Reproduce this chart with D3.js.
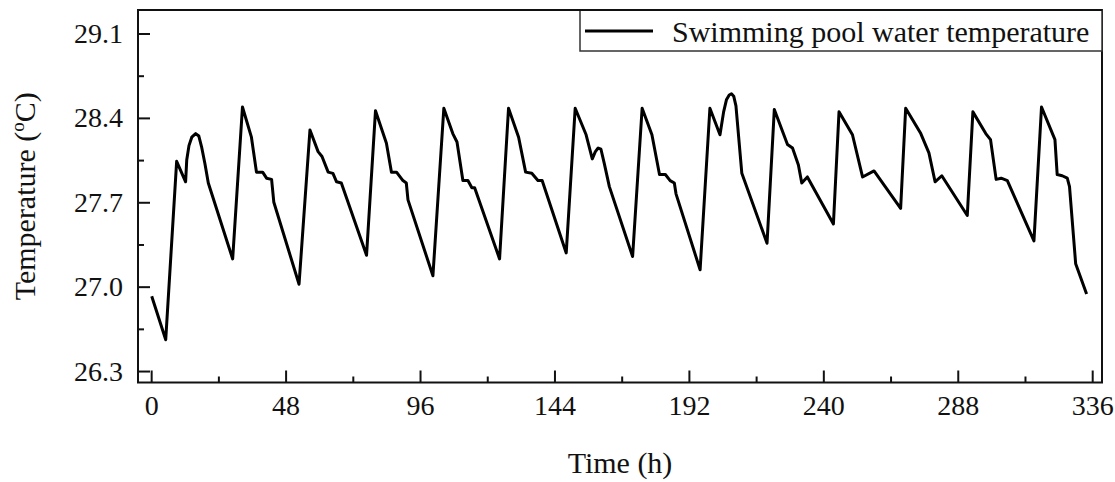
<!DOCTYPE html>
<html>
<head>
<meta charset="utf-8">
<script src="https://cdn.jsdelivr.net/npm/d3@7"></script>
<style>
  html, body { margin: 0; padding: 0; background: #fff; }
  svg { display: block; font-family: "Liberation Serif", "Times New Roman", serif; }
</style>
</head>
<body>
<svg id="chart" width="1115" height="482"></svg>
<script>
// Pool water temperature over two weeks (hourly time axis)
const hours = [
  0.2, 5.2, 9.1, 12.3, 12.7, 13.5, 14.5, 15.9, 17.0, 18.0, 19.2, 20.4,
  29.1, 32.6, 35.8, 37.6, 39.8, 41.2, 43.0, 43.8,
  52.8, 56.7, 59.6, 61.0, 63.2, 64.9, 66.2, 67.9,
  76.9, 80.1, 84.0, 85.8, 87.6, 89.9, 91.1, 91.7,
  100.6, 104.5, 107.7, 109.2, 111.3, 113.1, 114.5, 115.5,
  124.4, 127.6, 131.2, 133.7, 135.9, 138.1, 139.6,
  148.2, 151.4, 155.3, 157.5, 158.6, 159.6, 160.6, 161.8, 163.6,
  171.9, 175.3, 178.8, 181.5, 183.6, 185.3, 186.8, 187.4,
  196.0, 199.5, 203.1, 204.4, 205.4, 206.4, 207.2, 208.0, 208.8, 210.9,
  219.9, 222.5, 227.2, 229.0, 231.1, 232.3, 234.3,
  243.6, 245.6, 250.4, 254.0, 258.1,
  267.6, 269.4, 274.8, 277.7, 279.9, 282.3,
  291.4, 293.4, 298.0, 299.7, 301.7, 303.5, 305.7,
  315.2, 317.9, 322.7, 323.5, 325.3, 327.1, 327.9, 330.1, 334.0
];
const temps = [
  26.92, 26.56, 28.04, 27.87, 28.05, 28.17, 28.24, 28.27, 28.25, 28.16, 28.02, 27.86,
  27.23, 28.49, 28.24, 27.95, 27.95, 27.90, 27.89, 27.70,
  27.02, 28.30, 28.12, 28.08, 27.95, 27.94, 27.87, 27.86,
  27.26, 28.46, 28.19, 27.95, 27.95, 27.88, 27.86, 27.72,
  27.09, 28.48, 28.27, 28.20, 27.88, 27.88, 27.82, 27.82,
  27.23, 28.48, 28.24, 27.95, 27.94, 27.88, 27.88,
  27.28, 28.48, 28.26, 28.06, 28.12, 28.15, 28.14, 28.02, 27.83,
  27.25, 28.48, 28.26, 27.93, 27.93, 27.88, 27.86, 27.77,
  27.14, 28.48, 28.26, 28.45, 28.55, 28.59, 28.60, 28.58, 28.50, 27.94,
  27.36, 28.47, 28.18, 28.15, 28.01, 27.86, 27.91,
  27.52, 28.45, 28.26, 27.91, 27.96,
  27.65, 28.48, 28.27, 28.11, 27.87, 27.92,
  27.59, 28.45, 28.27, 28.22, 27.89, 27.90, 27.88,
  27.38, 28.49, 28.22, 27.93, 27.92, 27.90, 27.83, 27.19, 26.94
];

const xTicks = [0, 48, 96, 144, 192, 240, 288, 336];
const xMinorTicks = [24, 72, 120, 168, 216, 264, 312];
const yTicks = [26.3, 27.0, 27.7, 28.4, 29.1];
const yMinorTicks = [26.65, 27.35, 28.05, 28.75];

const seriesName = "Swimming pool water temperature";
const xTitle = "Time (h)";

const svg = d3.select("#chart");
const plot = { left: 138, top: 10, right: 1102, bottom: 382.5 };
const W = plot.right - plot.left, H = plot.bottom - plot.top;

const x = d3.scaleLinear().domain([-4.7, 339.5]).range([0, W]);
const y = d3.scaleLinear().domain([26.205, 29.295]).range([H, 0]);

const g = svg.append("g").attr("transform", `translate(${plot.left},${plot.top})`);

// minor ticks
g.append("g").attr("transform", `translate(0,${H})`)
  .call(d3.axisBottom(x).tickValues(xMinorTicks).tickSize(-6).tickFormat(""))
  .call(a => a.select(".domain").remove())
  .call(a => a.selectAll("line").attr("stroke", "#111").attr("stroke-width", 2));
g.append("g")
  .call(d3.axisLeft(y).tickValues(yMinorTicks).tickSize(-6).tickFormat(""))
  .call(a => a.select(".domain").remove())
  .call(a => a.selectAll("line").attr("stroke", "#111").attr("stroke-width", 2));

// major ticks + labels
g.append("g").attr("transform", `translate(0,${H})`)
  .call(d3.axisBottom(x).tickValues(xTicks).tickSize(-12).tickPadding(13).tickFormat(d3.format("d")))
  .call(a => a.select(".domain").remove())
  .call(a => a.selectAll("line").attr("stroke", "#111").attr("stroke-width", 2))
  .call(a => a.selectAll("text").attr("fill", "#111").attr("font-size", 28)
    .attr("font-family", "Liberation Serif, serif"));
g.append("g")
  .call(d3.axisLeft(y).tickValues(yTicks).tickSize(-12).tickPadding(15).tickFormat(d3.format(".1f")))
  .call(a => a.select(".domain").remove())
  .call(a => a.selectAll("line").attr("stroke", "#111").attr("stroke-width", 2))
  .call(a => a.selectAll("text").attr("fill", "#111").attr("font-size", 28)
    .attr("font-family", "Liberation Serif, serif"));

// data line
const pts = hours.map((h, i) => [h, temps[i]]);
g.append("path")
  .datum(pts)
  .attr("fill", "none")
  .attr("stroke", "#000")
  .attr("stroke-width", 3)
  .attr("stroke-linejoin", "round")
  .attr("d", d3.line().x(d => x(d[0])).y(d => y(d[1])));

// frame
g.append("rect")
  .attr("x", 0).attr("y", 0).attr("width", W).attr("height", H)
  .attr("fill", "none").attr("stroke", "#111").attr("stroke-width", 2);

// legend
const lg = svg.append("g");
lg.append("rect")
  .attr("x", 580).attr("y", plot.top).attr("width", plot.right - 580).attr("height", 41)
  .attr("fill", "#fff").attr("stroke", "#333").attr("stroke-width", 1.5);
lg.append("line")
  .attr("x1", 585).attr("x2", 653).attr("y1", 31).attr("y2", 31)
  .attr("stroke", "#000").attr("stroke-width", 3);
lg.append("text")
  .attr("x", 672).attr("y", 42)
  .attr("font-size", 30).attr("fill", "#111")
  .text(seriesName);
// frame top edge drawn over the legend box
svg.append("line")
  .attr("x1", plot.left).attr("x2", plot.right).attr("y1", plot.top).attr("y2", plot.top)
  .attr("stroke", "#111").attr("stroke-width", 2);

// axis titles
svg.append("text")
  .attr("x", (plot.left + plot.right) / 2).attr("y", 473)
  .attr("text-anchor", "middle").attr("font-size", 30).attr("fill", "#111")
  .text(xTitle);

const yt = svg.append("text")
  .attr("transform", `translate(35,${(plot.top + plot.bottom) / 2}) rotate(-90)`)
  .attr("text-anchor", "middle").attr("font-size", 30).attr("fill", "#111");
yt.append("tspan").text("Temperature (");
yt.append("tspan").attr("font-size", 19).attr("dy", -11).text("o");
yt.append("tspan").attr("dy", 11).text("C)");
</script>
</body>
</html>
